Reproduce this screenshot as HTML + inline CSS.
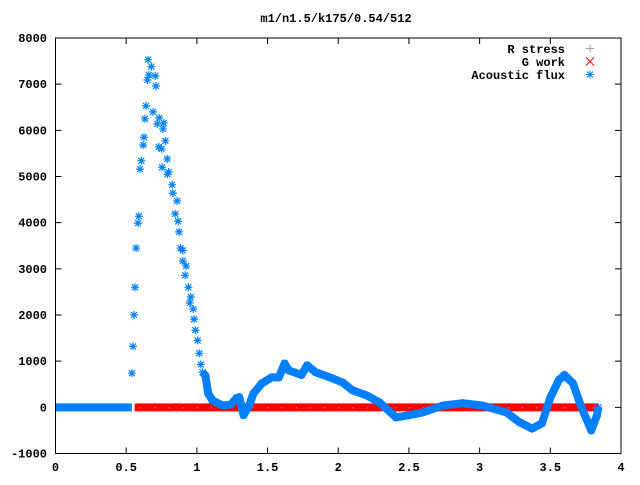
<!DOCTYPE html>
<html><head><meta charset="utf-8"><style>
html,body{margin:0;padding:0;background:#fff}
svg text{font-family:"Liberation Mono",monospace;font-weight:bold;font-size:12px;fill:#000}
</style></head><body>
<svg id="chart" width="640" height="480" viewBox="0 0 640 480" xmlns="http://www.w3.org/2000/svg">
<rect width="640" height="480" fill="#fff"/>
<text x="336" y="22" text-anchor="middle">m1/n1.5/k175/0.54/512</text>
<g id="axes"></g>
<g id="series"></g>
<rect x="55.5" y="38" width="565.5" height="415.5" fill="none" stroke="#000" stroke-width="1"/>
<g>
<text x="565" y="53" text-anchor="end">R stress</text>
<text x="565" y="66" text-anchor="end">G work</text>
<text x="565" y="79" text-anchor="end">Acoustic flux</text>
<path d="M586 48.5h8M590 44.5v8" stroke="#a0a0a0" stroke-width="1"/>
<path d="M586 57.5l8 8M594 57.5l-8 8" stroke="#ff0000" stroke-width="1"/>
<path d="M586 74.5h8M590 70.5v8M587 71.5l6 6M593 71.5l-6 6" stroke="#0080ff" stroke-width="1"/>
</g>
</svg>
<script>
const xTicks=[0,0.5,1,1.5,2,2.5,3,3.5,4];
const xTickLabels=["0","0.5","1","1.5","2","2.5","3","3.5","4"];
const yTicks=[-1000,0,1000,2000,3000,4000,5000,6000,7000,8000];
const yTickLabels=["-1000","0","1000","2000","3000","4000","5000","6000","7000","8000"];
const gworkX=[0.56,3.84];
const gworkY=[0,0];
const rstressX=[0.6,0.7,0.8,0.9,1.0,1.1,1.2,1.3,1.4,1.5,1.6,1.7,1.8,1.9,2.0,2.1,2.2,2.3,2.4,2.5,2.6,2.7,2.8,2.9,3.0,3.1,3.2,3.3,3.4,3.5,3.6,3.7,3.8];
const baseX=[0,0.54];
const baseY=[0,0];
const peakX=[0.54,0.548,0.555,0.562,0.57,0.584,0.59,0.598,0.607,0.62,0.626,0.633,0.64,0.65,0.655,0.66,0.678,0.706,0.71,0.69,0.733,0.72,0.766,0.76,0.777,0.73,0.75,0.79,0.754,0.80,0.792,0.825,0.83,0.86,0.846,0.867,0.874,0.884,0.90,0.90,0.924,0.917,0.94,0.957,0.95,0.974,0.98,0.99,1.005,1.017,1.028];
const peakY=[740,1320,2000,2600,3450,3990,4140,5160,5340,5680,5850,6250,6530,7090,7530,7200,7380,7180,6960,6400,6270,6140,6160,6030,5770,5640,5600,5380,5200,5100,5050,4820,4640,4470,4190,4030,3800,3450,3400,3170,3060,2860,2600,2390,2260,2130,1910,1670,1450,1170,930];
const tailX=[1.04,1.06,1.07,1.08,1.11,1.18,1.24,1.28,1.30,1.33,1.37,1.40,1.46,1.53,1.58,1.62,1.65,1.74,1.78,1.84,1.94,2.03,2.10,2.20,2.29,2.41,2.50,2.60,2.74,2.88,3.02,3.19,3.28,3.37,3.44,3.50,3.56,3.60,3.66,3.72,3.79,3.83,3.84];
const tailY=[760,690,500,300,150,40,60,200,220,-170,40,300,520,650,650,950,800,700,910,760,650,540,370,260,110,-220,-170,-110,40,90,40,-110,-320,-460,-350,210,590,700,520,0,-500,-170,0];

const NS="http://www.w3.org/2000/svg";
const X0=55.5,X1=621,Y0=453.5,Y1=38;
const sx=v=>X0+(v-0)/(4-0)*(X1-X0);
const sy=v=>Y0-(v+1000)/9000*(Y0-Y1);
function mk(tag,attrs,parent){const e=document.createElementNS(NS,tag);for(const k in attrs)e.setAttribute(k,attrs[k]);parent.appendChild(e);return e;}
const axes=document.getElementById('axes');
const series=document.getElementById('series');
xTicks.forEach((t,i)=>{
  const x=sx(t);
  const tk=mk('path',{d:`M${x} ${Y0}v-6M${x} ${Y1}v6`,stroke:'#000','stroke-width':1},axes);
  
  
  const tx=mk('text',{x:x,y:471,'text-anchor':'middle'},axes);
  tx.textContent=xTickLabels[i];
  
  
});
yTicks.forEach((t,i)=>{
  const y=sy(t);
  const tk=mk('path',{d:`M${X0} ${y}h6M${X1} ${y}h-6`,stroke:'#000','stroke-width':1},axes);
  
  
  const tx=mk('text',{x:47,y:y+4,'text-anchor':'end'},axes);
  tx.textContent=yTickLabels[i];
  
  
});
function band(xs,ys,color,name){
  const pts=xs.map((v,i)=>sx(v)+','+sy(ys[i])).join(' ');
  const p=mk('polyline',{points:pts,fill:'none',stroke:color,'stroke-width':8,'stroke-linejoin':'round'},series);
  
  
}
function star(x,y,color){
  const p=mk('path',{d:`M${x-4} ${y}h8M${x} ${y-4}v8M${x-3} ${y-3}l6 6M${x+3} ${y-3}l-6 6`,stroke:color,'stroke-width':1.2},series);
  
  
}
band(gworkX,gworkY,'#ff0000','g-work-series');
rstressX.forEach(v=>{
  const d=mk('rect',{x:sx(v),y:sy(0),width:1,height:1,fill:'#c0c0c0'},series);
  
  
});
band(baseX,baseY,'#0080ff','acoustic-flux-baseline');
band(tailX,tailY,'#0080ff','acoustic-flux-tail');
peakX.forEach((v,i)=>star(sx(v),sy(peakY[i]),'#0080ff'));
tailX.forEach((v,i)=>star(sx(v),sy(tailY[i]),'#0080ff'));
</script>
</body></html>
